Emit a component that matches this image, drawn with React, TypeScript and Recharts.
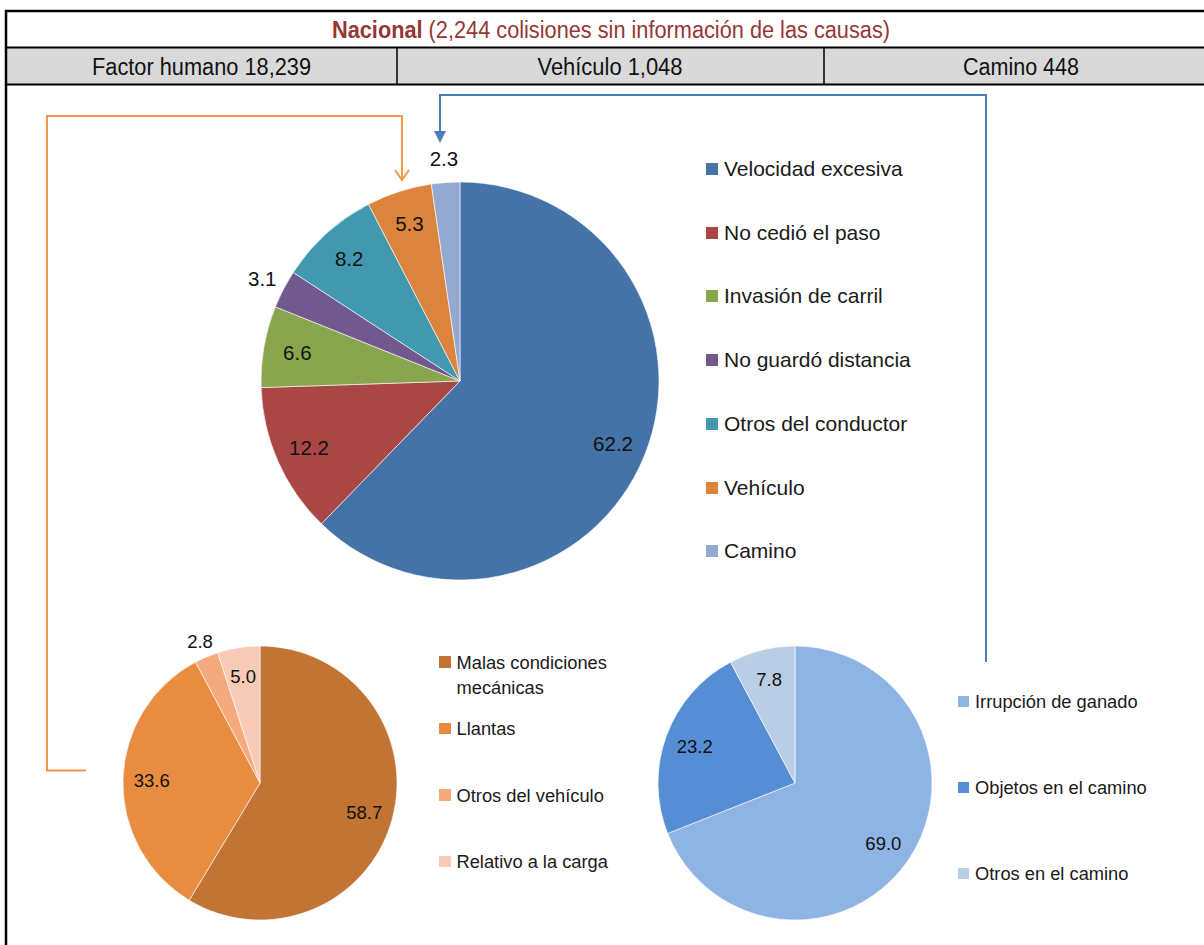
import React from "react";
import { PieChart, Pie, Cell, Legend } from "recharts";

// causas principales (porcentaje)
const mainCauses = [
  "Velocidad excesiva",
  "No cedió el paso",
  "Invasión de carril",
  "No guardó distancia",
  "Otros del conductor",
  "Vehículo",
  "Camino",
];
const mainShares = [62.2, 12.2, 6.6, 3.1, 8.2, 5.3, 2.3];

const vehicleCauses = [
  "Malas condiciones mecánicas",
  "Llantas",
  "Otros del vehículo",
  "Relativo a la carga",
];
const vehicleShares = [58.7, 33.6, 2.8, 5.0];

const roadCauses = ["Irrupción de ganado", "Objetos en el camino", "Otros en el camino"];
const roadShares = [69.0, 23.2, 7.8];

const groupNames = ["Factor humano", "Vehículo", "Camino"];
const groupTotals = [18239, 1048, 448];
const unknownTotal = 2244;

const MAIN_COLORS = ["#4572A7", "#AA4643", "#89A54E", "#71588F", "#4198AF", "#DB843D", "#93A9CF"];
const VEHICLE_COLORS = ["#C17434", "#E88C42", "#F4AA7D", "#F8CBB6"];
const ROAD_COLORS = ["#8EB4E3", "#558ED5", "#B9CDE5"];

const SANS = "'Liberation Sans', Arial, sans-serif";
const NARROW = "'Liberation Sans Narrow', 'Arial Narrow', 'Liberation Sans', sans-serif";

const toRows = (names: string[], values: number[]) =>
  names.map((name, i) => ({ name, value: values[i] }));

const RAD = Math.PI / 180;

const makeLabel =
  (fontSize: number, inside: number, outsideNames: string[]) => (props: any) => {
    const { cx, cy, midAngle, outerRadius, value } = props;
    const name = props.name ?? props.payload?.name;
    const r = outerRadius * (outsideNames.includes(name) ? 1.12 : inside);
    const x = cx + r * Math.cos(-midAngle * RAD);
    const y = cy + r * Math.sin(-midAngle * RAD);
    return (
      <text
        x={x}
        y={y}
        textAnchor="middle"
        dominantBaseline="central"
        fontSize={fontSize}
        fontFamily={SANS}
        fill="#111"
      >
        {Number(value).toFixed(1)}
      </text>
    );
  };

// leyenda en el orden de los datos (recharts la ordena por nombre)
const ListLegend = ({ payload, order, rowH, fontSize, box, lineH, textWidth }: any) => {
  const items = [...(payload || [])].sort(
    (a: any, b: any) => order.indexOf(a.value) - order.indexOf(b.value)
  );
  return (
    <div style={{ position: "relative", fontFamily: SANS, color: "#1a1a1a" }}>
      {items.map((e: any, i: number) => (
        <div
          key={`lg-${i}`}
          style={{
            position: "absolute",
            top: i * rowH,
            left: 0,
            display: "flex",
            alignItems: "flex-start",
          }}
        >
          <span
            style={{
              display: "inline-block",
              width: box,
              height: box,
              background: e.color,
              marginTop: (lineH - box) / 2,
              marginRight: 6,
              flex: "none",
            }}
          />
          <span style={{ fontSize, lineHeight: `${lineH}px`, width: textWidth }}>{e.value}</span>
        </div>
      ))}
    </div>
  );
};

const Header = () => (
  <svg
    width={1204}
    height={945}
    style={{ position: "absolute", left: 0, top: 0, pointerEvents: "none" }}
  >
    <rect x={6} y={48} width={1198} height={36} fill="#D9D9D9" />
    <line x1={5} y1={11} x2={1204} y2={11} stroke="#000" strokeWidth={2.5} />
    <line x1={5} y1={47.5} x2={1204} y2={47.5} stroke="#000" strokeWidth={2} />
    <line x1={5} y1={84.5} x2={1204} y2={84.5} stroke="#000" strokeWidth={2} />
    <line x1={6} y1={10} x2={6} y2={945} stroke="#000" strokeWidth={2.5} />
    <line x1={397} y1={47} x2={397} y2={85} stroke="#000" strokeWidth={1.5} />
    <line x1={824} y1={47} x2={824} y2={85} stroke="#000" strokeWidth={1.5} />

    <text
      x={611}
      y={30}
      textAnchor="middle"
      dominantBaseline="central"
      fontSize={23}
      fontFamily={NARROW}
      fill="#953735"
      textLength={558}
      lengthAdjust="spacingAndGlyphs"
    >
      <tspan fontWeight="bold">Nacional</tspan>
      {` (${unknownTotal.toLocaleString("en-US")} colisiones sin información de las causas)`}
    </text>
    {groupNames.map((g, i) => (
      <text
        key={g}
        x={[201.5, 610, 1021][i]}
        y={67}
        textAnchor="middle"
        dominantBaseline="central"
        fontSize={23}
        fontFamily={NARROW}
        fill="#111"
        textLength={[219, 145, 116][i]}
        lengthAdjust="spacingAndGlyphs"
      >
        {`${g} ${groupTotals[i].toLocaleString("en-US")}`}
      </text>
    ))}

    {/* conectores */}
    <path d="M86 770.5 H47 V116 H402 V179" fill="none" stroke="#F79646" strokeWidth={2} />
    <path d="M395 170 L402 180 L409 170" fill="none" stroke="#F79646" strokeWidth={2} />
    <path d="M986 662 V95 H440 V132" fill="none" stroke="#4A7EBB" strokeWidth={2} />
    <path d="M434 131 L446 131 L440 143 Z" fill="#4A7EBB" />
  </svg>
);

export default function App() {
  const mainData = toRows(mainCauses, mainShares);
  const vehicleData = toRows(vehicleCauses, vehicleShares);
  const roadData = toRows(roadCauses, roadShares);

  return (
    <div
      style={{
        position: "absolute",
        left: 0,
        top: 0,
        width: 1204,
        height: 945,
        background: "#fff",
        overflow: "hidden",
      }}
    >
      <Header />

      <div style={{ position: "absolute", left: 0, top: 90 }}>
        <PieChart width={1000} height={520} margin={{ top: 0, right: 0, bottom: 0, left: 0 }}>
          <Pie
            data={mainData}
            dataKey="value"
            nameKey="name"
            cx={460}
            cy={291}
            outerRadius={199}
            startAngle={90}
            endAngle={-270}
            stroke="#fff"
            strokeWidth={0.6}
            labelLine={false}
            label={makeLabel(20.5, 0.83, ["No guardó distancia", "Camino"])}
            isAnimationActive={false}
          >
            {mainData.map((_, i) => (
              <Cell key={`m-${i}`} fill={MAIN_COLORS[i]} />
            ))}
          </Pie>
          <Legend
            layout="vertical"
            align="right"
            verticalAlign="top"
            width={260}
            wrapperStyle={{ left: 706, top: 64, width: 260 }}
            content={(p: any) => (
              <ListLegend
                payload={p.payload}
                order={mainCauses}
                rowH={63.7}
                fontSize={21}
                box={12}
                lineH={30}
                textWidth={240}
              />
            )}
          />
        </PieChart>
      </div>

      <div style={{ position: "absolute", left: 0, top: 630 }}>
        <PieChart width={640} height={310} margin={{ top: 0, right: 0, bottom: 0, left: 0 }}>
          <Pie
            data={vehicleData}
            dataKey="value"
            nameKey="name"
            cx={260}
            cy={153}
            outerRadius={137}
            startAngle={90}
            endAngle={-270}
            stroke="#fff"
            strokeWidth={0.6}
            labelLine={false}
            label={makeLabel(18.5, 0.79, ["Otros del vehículo"])}
            isAnimationActive={false}
          >
            {vehicleData.map((_, i) => (
              <Cell key={`v-${i}`} fill={VEHICLE_COLORS[i]} />
            ))}
          </Pie>
          <Legend
            layout="vertical"
            align="right"
            verticalAlign="top"
            width={190}
            wrapperStyle={{ left: 439, top: 19.5, width: 190 }}
            content={(p: any) => (
              <ListLegend
                payload={p.payload}
                order={vehicleCauses}
                rowH={66.5}
                fontSize={18.3}
                box={11.5}
                lineH={25}
                textWidth={165}
              />
            )}
          />
        </PieChart>
      </div>

      <div style={{ position: "absolute", left: 640, top: 630 }}>
        <PieChart width={564} height={310} margin={{ top: 0, right: 0, bottom: 0, left: 0 }}>
          <Pie
            data={roadData}
            dataKey="value"
            nameKey="name"
            cx={155}
            cy={153}
            outerRadius={137}
            startAngle={90}
            endAngle={-270}
            stroke="#fff"
            strokeWidth={0.6}
            labelLine={false}
            label={makeLabel(18.5, 0.78, [])}
            isAnimationActive={false}
          >
            {roadData.map((_, i) => (
              <Cell key={`r-${i}`} fill={ROAD_COLORS[i]} />
            ))}
          </Pie>
          <Legend
            layout="vertical"
            align="right"
            verticalAlign="top"
            width={230}
            wrapperStyle={{ left: 318, top: 58.5, width: 230 }}
            content={(p: any) => (
              <ListLegend
                payload={p.payload}
                order={roadCauses}
                rowH={86}
                fontSize={18.3}
                box={11}
                lineH={25}
                textWidth={210}
              />
            )}
          />
        </PieChart>
      </div>
    </div>
  );
}
